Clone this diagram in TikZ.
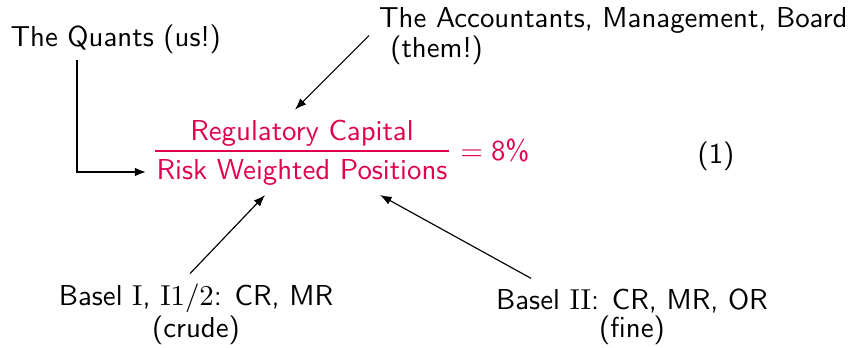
\documentclass[tikz,border=0pt]{standalone}
\usetikzlibrary{arrows.meta,calc}
\renewcommand\familydefault{\sfdefault}
\definecolor{regred}{RGB}{224,0,80}
\begin{document}
\begin{tikzpicture}[x=0.347pt,y=-0.347pt,
  lbl/.style={font=\fontsize{10}{12}\selectfont\sffamily, inner sep=3.3pt},
  twoline/.style={lbl, align=center, font=\fontsize{10}{9.7}\selectfont\sffamily},
  frac/.style={lbl, text=regred},
  arr/.style={draw, line width=0.4pt, -{Latex[length=4pt,width=3pt]}},
  thickarr/.style={draw, line width=0.85pt, -{Latex[length=4pt,width=3pt]}}]
\useasboundingbox (0,0) rectangle (854,347);
\node[lbl, anchor=base west, inner sep=0pt] (quants) at (10,46) {The Quants (us!)};
\node[lbl, anchor=base west, align=left, font=\fontsize{10}{10.4}\selectfont\sffamily] (acc) at (369,57)
  {The Accountants, Management, Board\\\hspace{3.9pt}(them!)};
\node[frac, anchor=base] (num) at (302,140) {Regulatory Capital};
\node[frac, anchor=base] (den) at (302,179) {Risk Weighted Positions};
\draw[regred, line width=0.85pt] (155,151) -- (449,151);
\node[frac, anchor=base west, inner sep=0pt] (eq) at (460,160) {$=\;$8\%};
\node[lbl, anchor=base west, inner sep=0pt] (eqn) at (697,163) {(1)};
\node[twoline, anchor=base] (b1) at (196,337)
  {Basel $\mathrm{I}$, $\mathrm{I}1/2$: CR, MR\\(crude)};
\node[twoline, anchor=base] (b2) at (632,337)
  {Basel $\mathrm{II}$: CR, MR, OR\\(fine)};
\draw[thickarr] (quants.south -| 77,0) ++(0,6) |- (den.west);
\draw[arr] (acc.west) -- (num.north -| 295,0);
\draw[arr] (b1.north -| 190,0) -- (den.south -| 265,0);
\draw[arr] (b2.north -| 531,0) -- (den.south -| 380,0);
\end{tikzpicture}
\end{document}
